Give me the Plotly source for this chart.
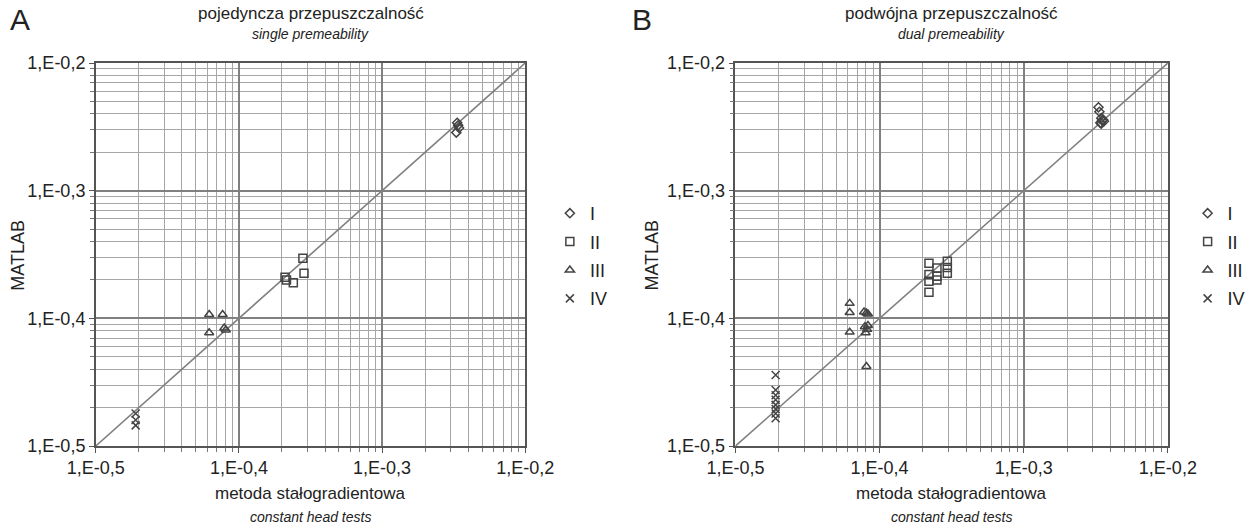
import plotly.graph_objects as go

W, H = 1251, 526

# ---- axis ticks ----
axis_ticks = [1e-5, 1e-4, 1e-3, 1e-2]
tick_labels = ["1,E-0,5", "1,E-0,4", "1,E-0,3", "1,E-0,2"]
one_to_one = [1e-5, 1e-2]

series_names = ["I", "II", "III", "IV"]

# ---- panel A: single permeability ----
a_I_x = [3.35e-3, 3.4e-3, 3.3e-3, 3.45e-3]
a_I_y = [3.4e-3, 3.25e-3, 2.85e-3, 3.1e-3]
a_II_x = [2.1e-4, 2.15e-4, 2.4e-4, 2.8e-4, 2.85e-4]
a_II_y = [2.1e-4, 2.0e-4, 1.9e-4, 2.95e-4, 2.25e-4]
a_III_x = [6.2e-5, 7.7e-5, 6.2e-5, 7.9e-5, 8.1e-5]
a_III_y = [1.07e-4, 1.07e-4, 7.7e-5, 8.4e-5, 8.1e-5]
a_IV_x = [1.9e-5, 1.9e-5, 1.9e-5]
a_IV_y = [1.8e-5, 1.6e-5, 1.45e-5]

# ---- panel B: dual permeability ----
b_I_x = [3.3e-3, 3.35e-3, 3.45e-3, 3.5e-3, 3.4e-3, 3.55e-3, 3.45e-3, 3.6e-3]
b_I_y = [4.5e-3, 4.15e-3, 3.7e-3, 3.55e-3, 3.4e-3, 3.6e-3, 3.35e-3, 3.5e-3]
b_II_x = [2.2e-4, 2.2e-4, 2.2e-4, 2.2e-4, 2.5e-4, 2.5e-4, 2.5e-4, 2.95e-4, 2.95e-4, 2.95e-4]
b_II_y = [2.7e-4, 2.2e-4, 1.95e-4, 1.6e-4, 2.48e-4, 2.14e-4, 2.0e-4, 2.8e-4, 2.5e-4, 2.26e-4]
b_III_x = [6.2e-5, 6.2e-5, 6.2e-5, 7.8e-5, 8.1e-5, 8.3e-5, 7.9e-5, 8.2e-5, 8.0e-5, 8.1e-5, 8.3e-5]
b_III_y = [1.31e-4, 1.11e-4, 7.8e-5, 1.12e-4, 1.1e-4, 1.08e-4, 8.6e-5, 8.2e-5, 7.7e-5, 4.2e-5, 8.8e-5]
b_IV_x = [1.9e-5] * 8
b_IV_y = [3.6e-5, 2.75e-5, 2.5e-5, 2.3e-5, 2.1e-5, 1.95e-5, 1.8e-5, 1.65e-5]

panels = {
    "A": [(a_I_x, a_I_y), (a_II_x, a_II_y), (a_III_x, a_III_y), (a_IV_x, a_IV_y)],
    "B": [(b_I_x, b_I_y), (b_II_x, b_II_y), (b_III_x, b_III_y), (b_IV_x, b_IV_y)],
}

MK = "#444444"
FONT = "Liberation Sans, Arial, sans-serif"
symbols = ["diamond-open", "square-open", "triangle-up-open", "x-thin"]
sizes = [7, 8, 8, 8]

fig = go.Figure()

axes = {"A": ("x", "y", "legend"), "B": ("x2", "y2", "legend2")}
for key, data in panels.items():
    xa, ya, leg = axes[key]
    fig.add_trace(go.Scatter(
        x=one_to_one, y=one_to_one, mode="lines", xaxis=xa, yaxis=ya,
        line=dict(color="#808080", width=1.6), showlegend=False, hoverinfo="skip"))
    for i, (xs, ys) in enumerate(data):
        fig.add_trace(go.Scatter(
            x=xs, y=ys, mode="markers", name=series_names[i], xaxis=xa, yaxis=ya,
            legend=leg, legendgroup=key + series_names[i],
            marker=dict(symbol=symbols[i], size=sizes[i], color=MK,
                        line=dict(color=MK, width=1.5))))

ydom = [1 - 446 / H, 1 - 63 / H]
xdomA = [97 / W, 532 / W]
xdomB = [745 / W, 1183 / W]

def axis(domain, anchor):
    return dict(
        type="log", range=[-5, -2], domain=domain, anchor=anchor,
        automargin=False,
        tickmode="array", tickvals=axis_ticks, ticktext=tick_labels,
        tickfont=dict(size=18, color="#222", family=FONT),
        ticks="outside", ticklen=5, tickcolor="#555",
        showgrid=True, gridcolor="#808080", gridwidth=1.5,
        minor=dict(dtick="D1", showgrid=True, gridcolor="#a6a6a6", gridwidth=1,
                   ticks="outside", ticklen=4, tickcolor="#777"),
        showline=True, linecolor="#555", linewidth=1.5, mirror=True,
        zeroline=False, fixedrange=True,
    )

legend_common = dict(yanchor="top", xanchor="left",
                     font=dict(size=18, family=FONT, color="#222"),
                     tracegroupgap=2, bgcolor="rgba(0,0,0,0)", itemwidth=30)

fig.update_layout(
    width=W, height=H,
    margin=dict(l=0, r=0, t=0, b=0),
    paper_bgcolor="white", plot_bgcolor="white",
    font=dict(family=FONT, color="#222"),
    xaxis=axis(xdomA, "y"), yaxis=axis(ydom, "x"),
    xaxis2=axis(xdomB, "y2"), yaxis2=axis(ydom, "x2"),
    legend=dict(x=557 / W, y=1 - 195 / H, **legend_common),
    legend2=dict(x=1203 / W, y=1 - 195 / H, **legend_common),
    showlegend=True,
)

def ann(text, x, y, size, angle=0, xanchor="center"):
    fig.add_annotation(text=text, x=x / W, y=1 - y / H, xref="paper", yref="paper",
                       showarrow=False, xanchor=xanchor, yanchor="middle",
                       textangle=angle, font=dict(size=size, family=FONT, color="#222"))

# panel A texts
ann("A", 8, 20, 30, xanchor="left")
ann("pojedyncza przepuszczalność", 315, 13, 17)
ann("<i>single premeability</i>", 315, 34, 14)
ann("metoda stałogradientowa", 315, 493, 17)
ann("<i>constant head tests</i>", 315, 517, 14)
ann("MATLAB", 18, 255, 18, angle=-90)

# panel B texts
ann("B", 638, 20, 30, xanchor="left")
ann("podwójna przepuszczalność", 964, 13, 17)
ann("<i>dual premeability</i>", 964, 34, 14)
ann("metoda stałogradientowa", 964, 493, 17)
ann("<i>constant head tests</i>", 964, 517, 14)
ann("MATLAB", 660, 255, 18, angle=-90)

fig.write_html("out.html", config={"displayModeBar": False},
               post_script="document.body.style.margin='0';document.body.style.overflow='hidden';")
